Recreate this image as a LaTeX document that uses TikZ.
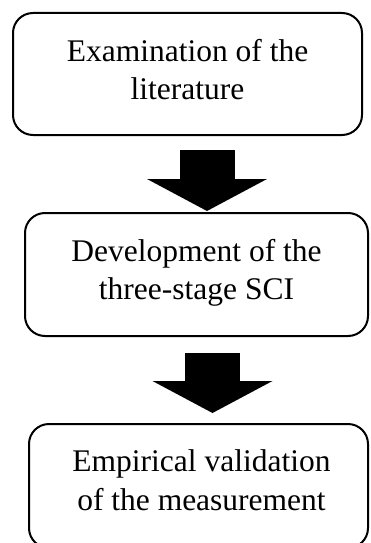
\documentclass[tikz,border=0pt]{standalone}
\usepackage{fontspec}
\setmainfont{Liberation Serif}
\usetikzlibrary{calc,positioning,arrows.meta}

\tikzstyle{stagebox} = [
    draw=black,
    line width=2pt,
    rectangle,
    rounded corners=20pt,
    inner sep=0pt,
    outer sep=0pt
    ]
\tikzstyle{stagetext} = [
    align=center,
    inner sep=0pt,
    outer sep=0pt,
    font=\fontsize{31.5}{38.5}\selectfont
    ]
\tikzstyle{bigarrow} = [
    line width=55pt,
    -{Triangle[width=120pt,length=32pt,line width=0pt]}
    ]

\begin{document}
\begin{tikzpicture}[x=1pt,y=1pt]
\useasboundingbox (0,0) rectangle (370,-543);
\clip (0,0) rectangle (370,-543);

% the three stages
\node[stagebox, minimum width=349pt, minimum height=122pt] (lit) at (187.5,-74) {};
\node[stagebox, minimum width=343pt, minimum height=123pt] (dev) at (196.5,-274.5) {};
\node[stagebox, minimum width=339pt, minimum height=124pt] (emp) at (198.5,-486) {};

\node[stagetext, below=26pt of lit.north] (littext) {Examination of the\\literature};
\node[stagetext, below=26pt of dev.north] (devtext) {Development of the\\three-stage SCI};
\node[stagetext, below=26pt of emp.north, xshift=3pt] (emptext) {Empirical validation\\of the measurement};

% block arrows between the stages
\coordinate (a1top) at ($(lit.south)+(19.5,-15)$);
\coordinate (a1tip) at ($(a1top |- dev.north)+(0,2)$);
\coordinate (a2top) at ($(dev.south)+(16,-17)$);
\coordinate (a2tip) at ($(a2top |- emp.north)+(0,11)$);
\draw[bigarrow] (a1top) -- (a1tip);
\draw[bigarrow] (a2top) -- (a2tip);
\end{tikzpicture}
\end{document}
